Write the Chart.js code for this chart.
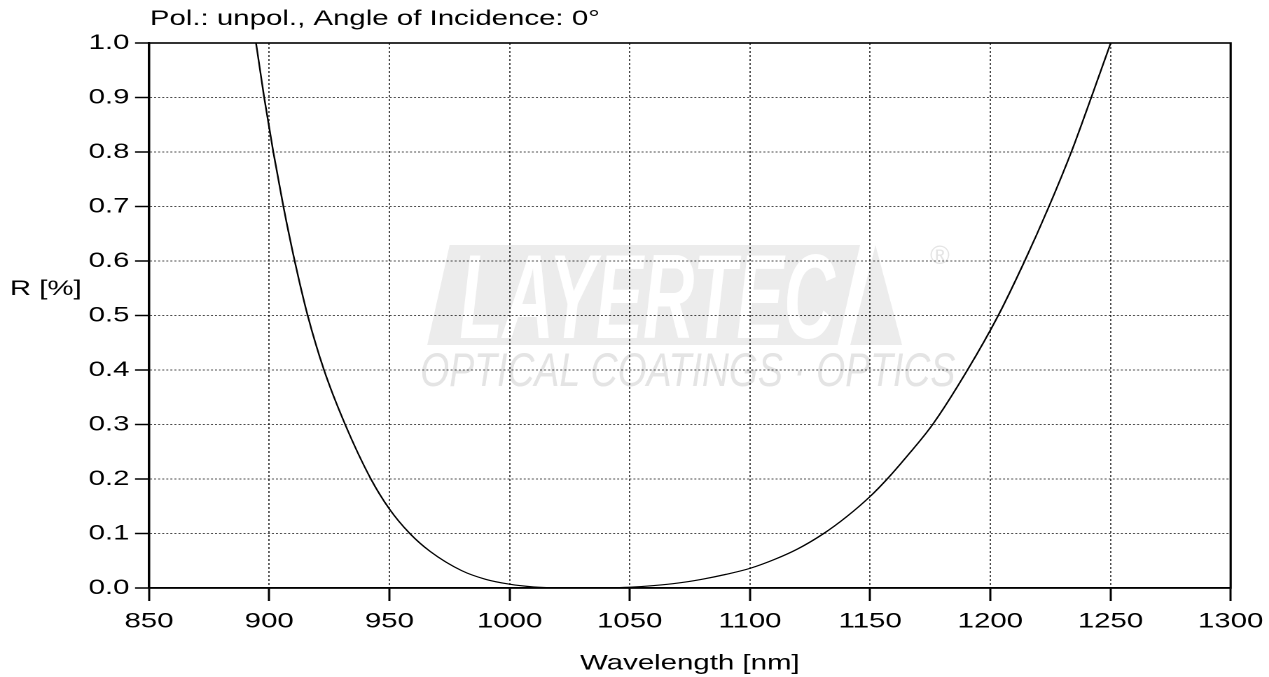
<!DOCTYPE html>
<html>
<head>
<meta charset="utf-8">
<script src="https://cdn.jsdelivr.net/npm/chart.js@4.4.1/dist/chart.umd.min.js"></script>
<style>
  html, body { margin: 0; padding: 0; background: #fff; overflow: hidden; }
  /* the reference is stretched sideways, so the canvas is too */
  #wrap { width: 906px; height: 677px; transform: scaleX(1.4007); transform-origin: 0 0; }
</style>
</head>
<body>
<div id="wrap"><canvas id="reflChart" width="906" height="677"></canvas></div>
<script>
const wavelengths = [890, 894.5, 897.9, 901.7, 905.9, 910.6, 916.0, 922.8, 931.6, 942.3, 950, 958.5, 967, 980, 990, 1000, 1010, 1020, 1030, 1040, 1050, 1060, 1070, 1080, 1090, 1100, 1110, 1120, 1130.7, 1140, 1150, 1157.1, 1165, 1176, 1190.5, 1203.3, 1214.3, 1224.4, 1233.7, 1242.0, 1250.1, 1254];
const reflectance = [1.12, 1.0, 0.9, 0.8, 0.7, 0.6, 0.5, 0.4, 0.3, 0.2, 0.145, 0.1, 0.067, 0.032, 0.016, 0.007, 0.002, 0.0003, 0.0, 0.0003, 0.0015, 0.0045, 0.009, 0.016, 0.025, 0.036, 0.052, 0.072, 0.1, 0.13, 0.168, 0.2, 0.24, 0.3, 0.4, 0.5, 0.6, 0.7, 0.8, 0.9, 1.0, 1.05];

const xTicks = [850, 900, 950, 1000, 1050, 1100, 1150, 1200, 1250, 1300];
const yTicks = [0, 0.1, 0.2, 0.3, 0.4, 0.5, 0.6, 0.7, 0.8, 0.9, 1.0];

const chartTitle = 'Pol.: unpol., Angle of Incidence: 0°';
const xTitle = 'Wavelength [nm]';
const yTitle = 'R [%]';

const fontFamily = "'Liberation Sans', Arial, sans-serif";

// logo watermark behind the grid, title + y label + frame on top
const decorations = {
  id: 'decorations',
  beforeDraw(chart) {
    const c = chart.ctx;
    c.save();
    c.fillStyle = '#ececec';
    c.beginPath();
    c.moveTo(321, 245); c.lineTo(614, 245); c.lineTo(598, 345); c.lineTo(305, 345);
    c.closePath();
    c.fill();
    c.beginPath();
    c.moveTo(625, 245); c.lineTo(644, 345); c.lineTo(607, 345);
    c.closePath();
    c.fill();
    c.fillStyle = '#fff';
    c.font = 'italic bold 120px ' + fontFamily;
    c.textBaseline = 'alphabetic';
    c.fillText('LAYERTEC', 328, 338, 268);
    c.fillStyle = '#e4e4e4';
    c.font = 'italic 47px ' + fontFamily;
    c.fillText('OPTICAL COATINGS · OPTICS', 300, 386, 382);
    c.font = '26px ' + fontFamily;
    c.fillText('®', 664, 264, 14);
    c.restore();
  },
  afterDraw(chart) {
    const c = chart.ctx;
    const a = chart.chartArea;
    c.save();
    c.strokeStyle = '#000';
    c.lineWidth = 1.6;
    c.strokeRect(a.left, a.top, a.right - a.left, a.bottom - a.top);
    c.fillStyle = '#000';
    c.font = '21px ' + fontFamily;
    c.textAlign = 'left';
    c.textBaseline = 'middle';
    c.fillText(chartTitle, 107, 19);
    c.fillText(yTitle, 7, 289);
    c.restore();
  }
};

const points = wavelengths.map((w, i) => ({x: w, y: reflectance[i]}));

new Chart(document.getElementById('reflChart'), {
  type: 'line',
  data: {
    datasets: [{
      data: points,
      borderColor: '#000',
      borderWidth: 1.2,
      pointRadius: 0,
      fill: false,
      cubicInterpolationMode: 'monotone'
    }]
  },
  options: {
    responsive: false,
    animation: false,
    devicePixelRatio: 2,
    layout: { padding: { top: 43, right: 27.4, left: 0, bottom: 0 } },
    plugins: {
      legend: { display: false },
      tooltip: { enabled: false }
    },
    scales: {
      x: {
        type: 'linear',
        min: 850,
        max: 1300,
        afterBuildTicks: (s) => { s.ticks = xTicks.map(v => ({value: v})); },
        afterFit: (s) => { s.height = 89; s.paddingLeft = 0; s.paddingRight = 0; },
        ticks: {
          color: '#000',
          font: { family: fontFamily, size: 21 },
          padding: 8,
          maxRotation: 0,
          autoSkip: false,
          callback: (v) => String(v)
        },
        grid: {
          color: 'rgba(0,0,0,0.7)',
          lineWidth: 1,
          tickLength: 13,
          tickColor: '#000',
          tickWidth: 1.5
        },
        border: { display: true, color: '#000', width: 1.6, dash: [2, 2] },
        title: {
          display: true,
          text: xTitle,
          color: '#000',
          font: { family: fontFamily, size: 21, lineHeight: 1.2 },
          padding: { top: 0, bottom: 0.5 }
        }
      },
      y: {
        min: 0,
        max: 1,
        afterBuildTicks: (s) => { s.ticks = yTicks.map(v => ({value: v})); },
        afterFit: (s) => { s.width = 106.4; s.paddingTop = 0; s.paddingBottom = 0; },
        ticks: {
          color: '#000',
          font: { family: fontFamily, size: 21 },
          padding: 4,
          callback: (v) => v.toFixed(1)
        },
        grid: {
          color: 'rgba(0,0,0,0.7)',
          lineWidth: 1,
          tickLength: 10,
          tickColor: '#000',
          tickWidth: 1.5
        },
        border: { display: true, color: '#000', width: 1.6, dash: [1.45, 1.45] }
      }
    }
  },
  plugins: [decorations]
});
</script>
</body>
</html>
